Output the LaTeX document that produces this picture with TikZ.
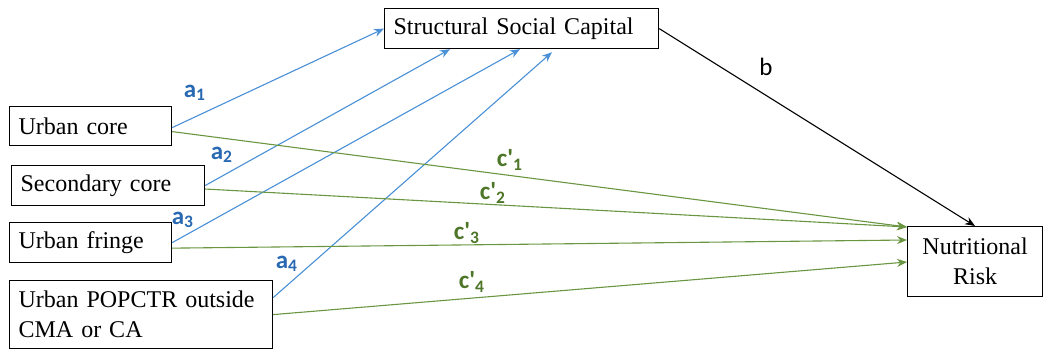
\documentclass[tikz,border=0pt]{standalone}
\usepackage{fontspec}
\setmainfont{Liberation Serif}
\newfontfamily\lblfont{Carlito}
\usetikzlibrary{arrows.meta}
\definecolor{lineblue}{RGB}{74,144,214}
\definecolor{lblblue}{RGB}{40,105,178}
\definecolor{linegreen}{RGB}{106,150,66}
\definecolor{lblgreen}{RGB}{78,118,40}
\tikzset{
  box/.style={draw, line width=0.6pt, inner sep=4.5pt, anchor=north west,
    font=\fontsize{12}{15}\selectfont},
  bluearrow/.style={draw=lineblue, line width=0.55pt, -{Stealth[length=5pt,width=4pt]}},
  greenarrow/.style={draw=linegreen, line width=0.55pt, -{Stealth[length=5pt,width=4pt]}},
  blackarrow/.style={draw=black, line width=0.55pt, -{Stealth[length=5pt,width=4pt]}},
  bluelbl/.style={text=lblblue, font=\lblfont\bfseries\fontsize{12.5}{14}\selectfont, inner sep=0pt},
  greenlbl/.style={text=lblgreen, font=\lblfont\bfseries\fontsize{12.5}{14}\selectfont, inner sep=0pt},
  blacklbl/.style={text=black, font=\lblfont\fontsize{12.5}{14}\selectfont, inner sep=0pt}
}
\begin{document}
\begin{tikzpicture}[x=0.5pt,y=-0.5pt]
\useasboundingbox (0,0) rectangle (1044,349);
% boxes
\node[box, text width=72pt, minimum height=19.5pt, align=left] (uc) at (9,106) {Urban core};
\node[box, text width=87.5pt, minimum height=19.5pt, align=left] (sc) at (11,165) {Secondary core};
\node[box, text width=72pt, minimum height=19.5pt, align=left] (uf) at (9,222) {Urban fringe};
\node[box, text width=122.5pt, minimum height=34pt, align=left] (up) at (9,280) {Urban POPCTR outside\\CMA or CA};
\node[box, text width=128pt, minimum height=20pt, align=left] (ssc) at (384,8) {Structural Social Capital};
\node[box, text width=58.5pt, minimum height=35pt, align=center] (nr) at (907,226) {Nutritional\\Risk};
% a paths
\draw[bluearrow] ([yshift=-0.75pt]uc.east) -- (ssc.west);
\draw[bluearrow] (sc.east) -- ([xshift=33pt]ssc.south west);
\draw[bluearrow] (uf.east) -- ([xshift=68pt]ssc.south west);
\draw[bluearrow] ([yshift=8.5pt]up.east) -- ([xshift=84pt,yshift=-1.5pt]ssc.south west);
% b path
\draw[blackarrow] (ssc.east) -- ([xshift=34pt]nr.north west);
% c' paths
\draw[greenarrow] ([yshift=-2.75pt]uc.east) -- ([yshift=-0.5pt]nr.north west);
\draw[greenarrow] ([yshift=-1.75pt]sc.east) -- ([yshift=-0.5pt]nr.north west);
\draw[greenarrow] ([yshift=-2.75pt]uf.east) -- ([yshift=-7pt]nr.north west);
\draw[greenarrow] (up.east) -- ([yshift=-18pt]nr.north west);
% labels
\node[bluelbl] (la1) at (195,93) {a\textsubscript{1}};
\node[bluelbl] (la2) at (222,155) {a\textsubscript{2}};
\node[bluelbl] (la3) at (183,220) {a\textsubscript{3}};
\node[bluelbl] (la4) at (287,264) {a\textsubscript{4}};
\node[blacklbl] (lb) at (766,67) {b};
\node[greenlbl] (lc1) at (510,160) {c\textquotesingle\textsubscript{1}};
\node[greenlbl] (lc2) at (493,193) {c\textquotesingle\textsubscript{2}};
\node[greenlbl] (lc3) at (467,233) {c\textquotesingle\textsubscript{3}};
\node[greenlbl] (lc4) at (472,282) {c\textquotesingle\textsubscript{4}};
\end{tikzpicture}
\end{document}
